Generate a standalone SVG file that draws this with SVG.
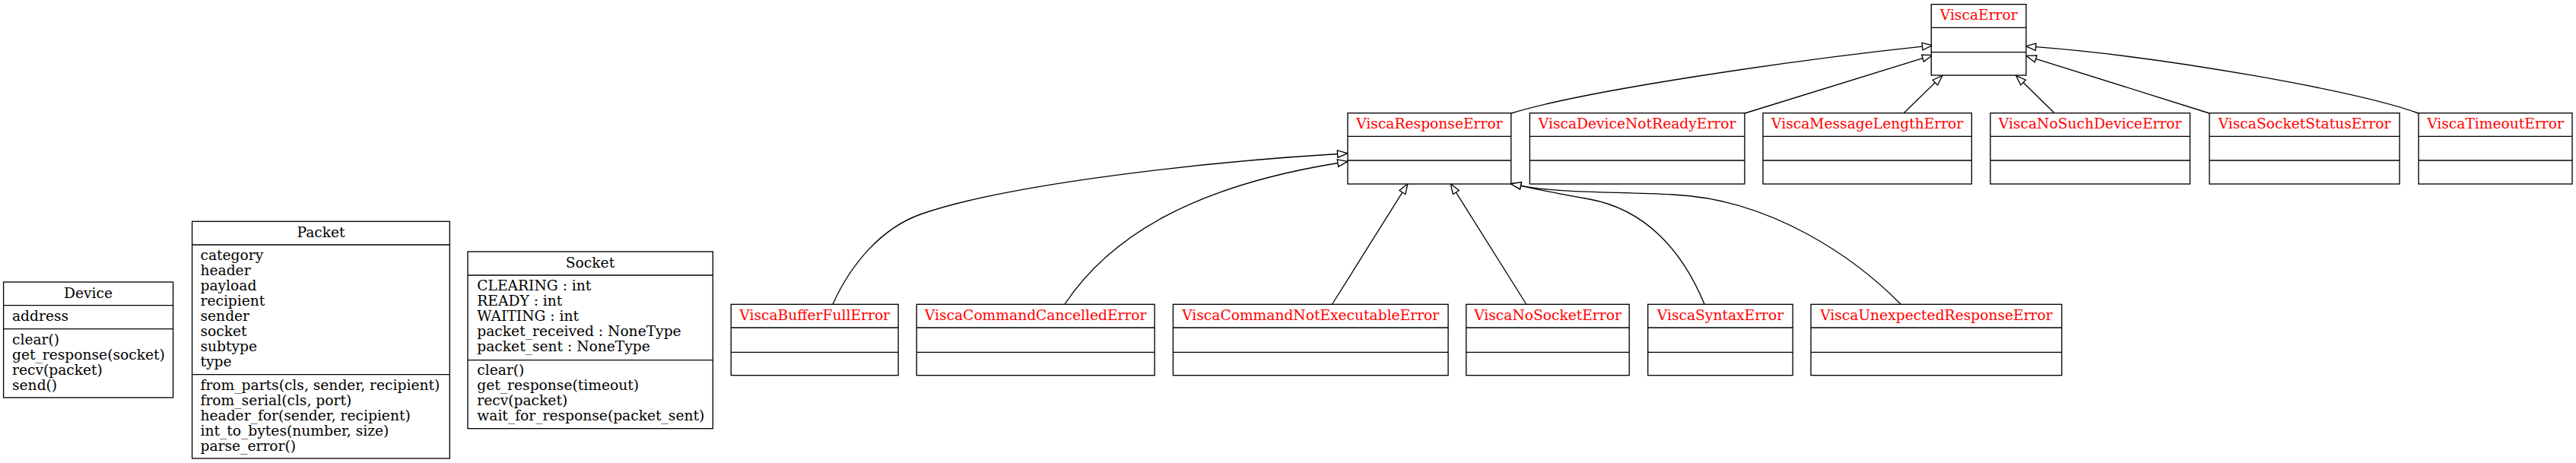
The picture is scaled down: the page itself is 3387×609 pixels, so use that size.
<svg xmlns="http://www.w3.org/2000/svg" width="3387" height="609" viewBox="0 0 3387 609">
<style>
.box{fill:#fff;stroke:#000;stroke-width:1.33}
.sep{stroke:#000;stroke-width:1.33}
text{font-family:"DejaVu Serif",serif;font-size:18.67px;fill:#000}
.t{text-anchor:middle}
.red{fill:#ff0000}
.edge{fill:none;stroke:#000;stroke-width:1.33}
</style>
<defs>
<marker id="tri" markerUnits="userSpaceOnUse" viewBox="0 0 16 12" markerWidth="16" markerHeight="12" refX="1" refY="6" orient="auto" overflow="visible">
<polygon points="1,1.33 14.3,6 1,10.67" fill="#fff" stroke="#000" stroke-width="1.33"/>
</marker>
</defs>
<rect width="3387" height="609" fill="#fff"/>

<g id="connectors">
<path class="edge" marker-end="url(#tri)" d="M1987,149 C2080,120 2350,80 2527.5,61.1"/>
<path class="edge" marker-end="url(#tri)" d="M2294,149 L2528,76.6"/>
<path class="edge" marker-end="url(#tri)" d="M2503.4,148.5 L2544.4,108.6"/>
<path class="edge" marker-end="url(#tri)" d="M2701,148.5 L2660.2,108.6"/>
<path class="edge" marker-end="url(#tri)" d="M2905,149 L2676.7,77.3"/>
<path class="edge" marker-end="url(#tri)" d="M3180,149 C3100,120 2850,75 2676.7,61.7"/>
<path class="edge" marker-end="url(#tri)" d="M1095,400 C1120,345 1160,300 1210,282 C1330,240 1600,212 1758.6,202.5"/>
<path class="edge" marker-end="url(#tri)" d="M1400,400 C1460,310 1570,245 1759,214.5"/>
<path class="edge" marker-end="url(#tri)" d="M1751.7,400 L1843.9,253"/>
<path class="edge" marker-end="url(#tri)" d="M2006.7,400 L1914.4,253"/>
<path class="edge" marker-end="url(#tri)" d="M2241,400 C2210,325 2160,275 2090,262 C2050,255 2025,250 1999.5,244.3"/>
<path class="edge" marker-end="url(#tri)" d="M2499,400 C2440,340 2330,262 2200,256 C2120,252 2050,254 1999.5,244.3"/>
</g>

<g id="Device">
<rect class="box" x="4.6" y="371" width="223" height="152"/>
<line class="sep" x1="4.6" y1="401.7" x2="227.6" y2="401.7"/>
<line class="sep" x1="4.6" y1="432.7" x2="227.6" y2="432.7"/>
<text class="t" x="116" y="391.7">Device</text>
<text x="16" y="421.7">address</text>
<text x="16" y="452.7">clear()</text>
<text x="16" y="472.7">get_response(socket)</text>
<text x="16" y="492.7">recv(packet)</text>
<text x="16" y="512.7">send()</text>
</g>

<g id="Packet">
<rect class="box" x="252.6" y="291.3" width="338.7" height="311.7"/>
<line class="sep" x1="252.6" y1="322" x2="591.3" y2="322"/>
<line class="sep" x1="252.6" y1="492.7" x2="591.3" y2="492.7"/>
<text class="t" x="422" y="312">Packet</text>
<text x="263.5" y="341.7">category</text>
<text x="263.5" y="361.7">header</text>
<text x="263.5" y="381.7">payload</text>
<text x="263.5" y="401.7">recipient</text>
<text x="263.5" y="421.7">sender</text>
<text x="263.5" y="441.7">socket</text>
<text x="263.5" y="461.7">subtype</text>
<text x="263.5" y="481.7">type</text>
<text x="263.5" y="512.7">from_parts(cls, sender, recipient)</text>
<text x="263.5" y="532.7">from_serial(cls, port)</text>
<text x="263.5" y="552.7">header_for(sender, recipient)</text>
<text x="263.5" y="572.7">int_to_bytes(number, size)</text>
<text x="263.5" y="592.7">parse_error()</text>
</g>

<g id="Socket">
<rect class="box" x="615" y="331" width="322.3" height="232.7"/>
<line class="sep" x1="615" y1="362" x2="937.3" y2="362"/>
<line class="sep" x1="615" y1="473.7" x2="937.3" y2="473.7"/>
<text class="t" x="776" y="351.7">Socket</text>
<text x="627.3" y="381.7">CLEARING : int</text>
<text x="627.3" y="401.7">READY : int</text>
<text x="627.3" y="421.7">WAITING : int</text>
<text x="627.3" y="441.7">packet_received : NoneType</text>
<text x="627.3" y="461.7">packet_sent : NoneType</text>
<text x="627.3" y="492.7">clear()</text>
<text x="627.3" y="512.7">get_response(timeout)</text>
<text x="627.3" y="532.7">recv(packet)</text>
<text x="627.3" y="552.7">wait_for_response(packet_sent)</text>
</g>

<g id="ViscaError">
<rect class="box" x="2539.3" y="5.7" width="124.7" height="93.3"/>
<line class="sep" x1="2539.3" y1="36.3" x2="2664" y2="36.3"/>
<line class="sep" x1="2539.3" y1="68.7" x2="2664" y2="68.7"/>
<text class="t red" x="2601.7" y="26.4">ViscaError</text>
</g>

<g id="ViscaResponseError">
<rect class="box" x="1772" y="148.7" width="214.8" height="93.3"/>
<line class="sep" x1="1772" y1="179.3" x2="1986.8" y2="179.3"/>
<line class="sep" x1="1772" y1="211" x2="1986.8" y2="211"/>
<text class="t red" x="1879.4" y="169.4">ViscaResponseError</text>
</g>

<g id="ViscaDeviceNotReadyError">
<rect class="box" x="2011.4" y="148.7" width="282.5" height="93.3"/>
<line class="sep" x1="2011.4" y1="179.3" x2="2293.9" y2="179.3"/>
<line class="sep" x1="2011.4" y1="211" x2="2293.9" y2="211"/>
<text class="t red" x="2152.6" y="169.4">ViscaDeviceNotReadyError</text>
</g>

<g id="ViscaMessageLengthError">
<rect class="box" x="2318" y="148.7" width="274.4" height="93.3"/>
<line class="sep" x1="2318" y1="179.3" x2="2592.4" y2="179.3"/>
<line class="sep" x1="2318" y1="211" x2="2592.4" y2="211"/>
<text class="t red" x="2455.2" y="169.4">ViscaMessageLengthError</text>
</g>

<g id="ViscaNoSuchDeviceError">
<rect class="box" x="2617" y="148.7" width="262.5" height="93.3"/>
<line class="sep" x1="2617" y1="179.3" x2="2879.5" y2="179.3"/>
<line class="sep" x1="2617" y1="211" x2="2879.5" y2="211"/>
<text class="t red" x="2748.2" y="169.4">ViscaNoSuchDeviceError</text>
</g>

<g id="ViscaSocketStatusError">
<rect class="box" x="2905" y="148.7" width="250" height="93.3"/>
<line class="sep" x1="2905" y1="179.3" x2="3155" y2="179.3"/>
<line class="sep" x1="2905" y1="211" x2="3155" y2="211"/>
<text class="t red" x="3030" y="169.4">ViscaSocketStatusError</text>
</g>

<g id="ViscaTimeoutError">
<rect class="box" x="3180" y="148.7" width="202" height="93.3"/>
<line class="sep" x1="3180" y1="179.3" x2="3382" y2="179.3"/>
<line class="sep" x1="3180" y1="211" x2="3382" y2="211"/>
<text class="t red" x="3281" y="169.4">ViscaTimeoutError</text>
</g>

<g id="ViscaBufferFullError">
<rect class="box" x="961.2" y="400.3" width="219.9" height="93.4"/>
<line class="sep" x1="961.2" y1="431" x2="1181.1" y2="431"/>
<line class="sep" x1="961.2" y1="463.3" x2="1181.1" y2="463.3"/>
<text class="t red" x="1071.2" y="421">ViscaBufferFullError</text>
</g>

<g id="ViscaCommandCancelledError">
<rect class="box" x="1205.2" y="400.3" width="312.9" height="93.4"/>
<line class="sep" x1="1205.2" y1="431" x2="1518.1" y2="431"/>
<line class="sep" x1="1205.2" y1="463.3" x2="1518.1" y2="463.3"/>
<text class="t red" x="1361.7" y="421">ViscaCommandCancelledError</text>
</g>

<g id="ViscaCommandNotExecutableError">
<rect class="box" x="1542.4" y="400.3" width="361.7" height="93.4"/>
<line class="sep" x1="1542.4" y1="431" x2="1904.1" y2="431"/>
<line class="sep" x1="1542.4" y1="463.3" x2="1904.1" y2="463.3"/>
<text class="t red" x="1723.2" y="421">ViscaCommandNotExecutableError</text>
</g>

<g id="ViscaNoSocketError">
<rect class="box" x="1927.8" y="400.3" width="214.4" height="93.4"/>
<line class="sep" x1="1927.8" y1="431" x2="2142.2" y2="431"/>
<line class="sep" x1="1927.8" y1="463.3" x2="2142.2" y2="463.3"/>
<text class="t red" x="2035" y="421">ViscaNoSocketError</text>
</g>

<g id="ViscaSyntaxError">
<rect class="box" x="2166.7" y="400.3" width="190.5" height="93.4"/>
<line class="sep" x1="2166.7" y1="431" x2="2357.2" y2="431"/>
<line class="sep" x1="2166.7" y1="463.3" x2="2357.2" y2="463.3"/>
<text class="t red" x="2262" y="421">ViscaSyntaxError</text>
</g>

<g id="ViscaUnexpectedResponseError">
<rect class="box" x="2381" y="400.3" width="329.8" height="93.4"/>
<line class="sep" x1="2381" y1="431" x2="2710.8" y2="431"/>
<line class="sep" x1="2381" y1="463.3" x2="2710.8" y2="463.3"/>
<text class="t red" x="2545.9" y="421">ViscaUnexpectedResponseError</text>
</g>
</svg>
